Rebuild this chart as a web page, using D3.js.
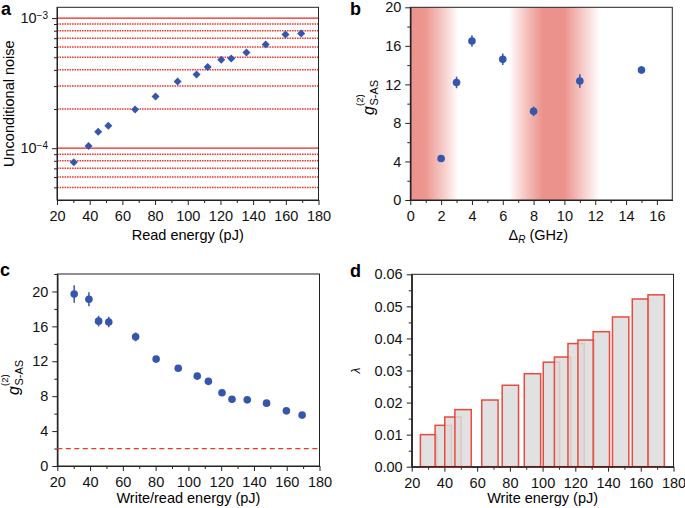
<!DOCTYPE html>
<html>
<head>
<meta charset="utf-8">
<script src="https://cdn.jsdelivr.net/npm/d3@7"></script>
<style>
  body { margin: 0; background: #fff; }
  svg { font-family: "Liberation Sans", Arial, sans-serif; }
  .tick text { font-size: 14.5px; fill: #111; }
  .domain, .tick line { stroke: #222; }
</style>
</head>
<body>
<script>
// pulse energies shared by panels a, c, d (pJ)
var energy = [30.3, 39.3, 45.2, 51.4, 67.8, 80.3, 93.8, 105.4, 112.2, 120.5, 126.6, 135.9, 147.7, 159.8, 169.4];

// panel a: unconditional noise vs read energy
var noise = [7.8e-5, 1.04e-4, 1.34e-4, 1.49e-4, 1.98e-4, 2.5e-4, 3.25e-4, 3.68e-4, 4.21e-4, 4.79e-4, 4.9e-4, 5.45e-4, 6.27e-4, 7.49e-4, 7.62e-4];
var refLevels = [1e-3, 9e-4, 8e-4, 7e-4, 6e-4, 5e-4, 4e-4, 3e-4, 2e-4, 1e-4, 9e-5, 8e-5, 7e-5, 6e-5, 5e-5];
var solidLevels = [1e-3, 1e-4];
var decadeTicks = [1e-4, 1e-3];
var decadeExp = ["\u22124", "\u22123"];

// panel b: g2 vs detuning
var detuning = [2, 3, 4, 6, 8, 11, 15];
var g2b = [4.3, 12.2, 16.5, 14.6, 9.2, 12.35, 13.5];
var g2bErr = [0.3, 0.6, 0.6, 0.6, 0.5, 0.7, 0.4];
// red shading: [detuning GHz, strength 0..1]
var shade = [[0, 1], [1.0, 0.95], [2.2, 0.45], [3.1, 0], [6.4, 0], [7.6, 0.6], [8.6, 1], [10.0, 1], [11.0, 0.55], [12.3, 0]];

// panel c: g2 vs write/read energy
var g2c = [19.7, 19.1, 16.6, 16.5, 14.8, 12.25, 11.2, 10.3, 9.7, 8.4, 7.65, 7.58, 7.2, 6.32, 5.83];
var g2cErr = [1.0, 0.8, 0.6, 0.6, 0.5, 0.3, 0.3, 0.3, 0.3, 0.3, 0.25, 0.25, 0.25, 0.25, 0.25];
var classicalBound = 2;

// panel d: lambda vs write energy
var lambda = [0.0100, 0.0129, 0.0155, 0.0178, 0.0208, 0.0254, 0.0290, 0.0326, 0.0342, 0.0384, 0.0395, 0.0421, 0.0467, 0.0523, 0.0536];
var binWidth = 10;

var energyTicks = d3.range(20, 181, 20),
    energyMinor = d3.range(30, 180, 20);

var blue = "#3556ad",
    red = "#e8392b";

var svg = d3.select("body").append("svg")
    .attr("width", 685)
    .attr("height", 508);

// plot boxes
var boxA = {l: 57, r: 318.5, t: 7.3, b: 200},
    boxB = {l: 410.3, r: 672.3, t: 7.3, b: 200},
    boxC = {l: 57.3, r: 319.5, t: 274, b: 466},
    boxD = {l: 411.7, r: 673.5, t: 274.3, b: 466.7};

function bottomAxis(box, x, major, minor) {
    svg.append("g")
        .attr("transform", "translate(0," + box.b + ")")
        .call(d3.axisBottom(x).tickValues(minor).tickSize(3).tickSizeOuter(0).tickFormat(""));
    svg.append("g")
        .attr("transform", "translate(0," + box.b + ")")
        .call(d3.axisBottom(x).tickValues(major).tickSize(5).tickSizeOuter(0).tickPadding(6));
}

function leftAxis(box, y, major, minor, fmt) {
    svg.append("g")
        .attr("transform", "translate(" + box.l + ",0)")
        .call(d3.axisLeft(y).tickValues(minor).tickSize(3).tickSizeOuter(0).tickFormat(""));
    return svg.append("g")
        .attr("transform", "translate(" + box.l + ",0)")
        .call(d3.axisLeft(y).tickValues(major).tickSize(5).tickSizeOuter(0).tickPadding(4).tickFormat(fmt || null));
}

function frame(box) {
    svg.append("rect")
        .attr("x", box.l).attr("y", box.t)
        .attr("width", box.r - box.l).attr("height", box.b - box.t)
        .attr("fill", "none").attr("stroke", "#222").attr("stroke-width", 1);
}

function xLabel(box, y, txt) {
    return svg.append("text")
        .attr("x", (box.l + box.r) / 2).attr("y", y)
        .attr("text-anchor", "middle")
        .style("font-size", "14.5px")
        .text(txt);
}

function panelLetter(x, y, s) {
    svg.append("text").attr("x", x).attr("y", y)
        .style("font-size", "18px").style("font-weight", "bold")
        .text(s);
}

function g2Label(x, y) {
    var g = svg.append("g").attr("transform", "translate(" + x + "," + y + ") rotate(-90)");
    g.append("text").attr("x", 0).attr("y", 0)
        .style("font-size", "16px").style("font-style", "italic").text("g");
    g.append("text").attr("x", 9.5).attr("y", 3.5)
        .style("font-size", "11px").text("S-AS");
    g.append("text").attr("x", 9).attr("y", -11)
        .style("font-size", "9.5px").text("(2)");
}

// ---------------- panel a ----------------
var xa = d3.scaleLinear().domain([20, 180]).range([boxA.l, boxA.r]);
var ya = d3.scaleLog().domain([4e-5, 1.21e-3]).range([boxA.b, boxA.t]);

svg.append("g").selectAll("line")
    .data(refLevels)
    .enter().append("line")
    .attr("x1", boxA.l).attr("x2", boxA.r)
    .attr("y1", function(d) { return ya(d); })
    .attr("y2", function(d) { return ya(d); })
    .attr("stroke", function(d) { return solidLevels.indexOf(d) >= 0 ? "#e8261e" : "#ee3a32"; })
    .attr("stroke-width", function(d) { return solidLevels.indexOf(d) >= 0 ? 1.2 : 1.5; })
    .attr("stroke-dasharray", function(d) { return solidLevels.indexOf(d) >= 0 ? null : "1.6,0.9"; });

var minorA = [];
[1e-5, 1e-4].forEach(function(dec) {
    d3.range(2, 10).forEach(function(k) {
        var v = dec * k;
        if (v > 4e-5 && v < 1.21e-3) minorA.push(v);
    });
});
bottomAxis(boxA, xa, energyTicks, energyMinor);
var yaxA = leftAxis(boxA, ya, decadeTicks, minorA, function() { return ""; });
yaxA.selectAll(".tick text").each(function(d, i) {
    var t = d3.select(this).text(null);
    t.append("tspan").text("10");
    t.append("tspan").attr("dy", "-0.45em").style("font-size", "10px").text(decadeExp[i]);
});
frame(boxA);

svg.append("g").selectAll("path")
    .data(energy)
    .enter().append("path")
    .attr("d", d3.symbol().type(d3.symbolSquare).size(32))
    .attr("transform", function(d, i) { return "translate(" + xa(d) + "," + ya(noise[i]) + ") rotate(45)"; })
    .attr("fill", blue);

xLabel(boxA, 239.5, "Read energy (pJ)");
svg.append("text")
    .attr("transform", "translate(14," + ((boxA.t + boxA.b) / 2) + ") rotate(-90)")
    .attr("text-anchor", "middle")
    .style("font-size", "14.5px")
    .text("Unconditional noise");
panelLetter(1, 15, "a");

// ---------------- panel b ----------------
var xb = d3.scaleLinear().domain([0, 17]).range([boxB.l, boxB.r]);
var yb = d3.scaleLinear().domain([0, 20]).range([boxB.b, boxB.t]);

var grad = svg.append("defs").append("linearGradient")
    .attr("id", "shadeB")
    .attr("gradientUnits", "userSpaceOnUse")
    .attr("x1", boxB.l).attr("x2", boxB.r)
    .attr("y1", 0).attr("y2", 0);
grad.selectAll("stop")
    .data(shade)
    .enter().append("stop")
    .attr("offset", function(d) { return (xb(d[0]) - boxB.l) / (boxB.r - boxB.l); })
    .attr("stop-color", "#ec928c")
    .attr("stop-opacity", function(d) { return d[1]; });
svg.append("rect")
    .attr("x", boxB.l).attr("y", boxB.t)
    .attr("width", boxB.r - boxB.l).attr("height", boxB.b - boxB.t)
    .attr("fill", "url(#shadeB)");

bottomAxis(boxB, xb, d3.range(0, 17, 2), d3.range(1, 17, 2));
leftAxis(boxB, yb, d3.range(0, 21, 4), d3.range(2, 20, 4));
frame(boxB);

var pb = svg.append("g");
pb.selectAll("line")
    .data(detuning)
    .enter().append("line")
    .attr("x1", function(d) { return xb(d); })
    .attr("x2", function(d) { return xb(d); })
    .attr("y1", function(d, i) { return yb(g2b[i] - g2bErr[i]); })
    .attr("y2", function(d, i) { return yb(g2b[i] + g2bErr[i]); })
    .attr("stroke", blue).attr("stroke-width", 1.5);
pb.selectAll("circle")
    .data(detuning)
    .enter().append("circle")
    .attr("cx", function(d) { return xb(d); })
    .attr("cy", function(d, i) { return yb(g2b[i]); })
    .attr("r", 3.8)
    .attr("fill", blue);

var lb = svg.append("text")
    .attr("x", (boxB.l + boxB.r) / 2 - 3).attr("y", 239.5)
    .attr("text-anchor", "middle")
    .style("font-size", "14.5px");
lb.append("tspan").text("\u0394");
lb.append("tspan").attr("dy", "3").style("font-size", "10px").style("font-style", "italic").text("R");
lb.append("tspan").attr("dy", "-3").text(" (GHz)");
g2Label(374, 115);
panelLetter(350, 15, "b");

// ---------------- panel c ----------------
var xc = d3.scaleLinear().domain([20, 180]).range([boxC.l, boxC.r]);
var yc = d3.scaleLinear().domain([0, 22]).range([boxC.b, boxC.t]);

bottomAxis(boxC, xc, energyTicks, energyMinor);
leftAxis(boxC, yc, d3.range(0, 21, 4), d3.range(2, 23, 4));
frame(boxC);

svg.append("line")
    .attr("x1", boxC.l).attr("x2", boxC.r)
    .attr("y1", yc(classicalBound)).attr("y2", yc(classicalBound))
    .attr("stroke", "#f0362a").attr("stroke-width", 1.3)
    .attr("stroke-dasharray", "5,3.5");

var pc = svg.append("g");
pc.selectAll("line")
    .data(energy)
    .enter().append("line")
    .attr("x1", function(d) { return xc(d); })
    .attr("x2", function(d) { return xc(d); })
    .attr("y1", function(d, i) { return yc(g2c[i] - g2cErr[i]); })
    .attr("y2", function(d, i) { return yc(g2c[i] + g2cErr[i]); })
    .attr("stroke", blue).attr("stroke-width", 1.5);
pc.selectAll("circle")
    .data(energy)
    .enter().append("circle")
    .attr("cx", function(d) { return xc(d); })
    .attr("cy", function(d, i) { return yc(g2c[i]); })
    .attr("r", 3.8)
    .attr("fill", blue);

xLabel(boxC, 503, "Write/read energy (pJ)");
g2Label(19, 395);
panelLetter(0, 276, "c");

// ---------------- panel d ----------------
var xd = d3.scaleLinear().domain([20, 180]).range([boxD.l, boxD.r]);
var yd = d3.scaleLinear().domain([0, 0.06]).range([boxD.b, boxD.t]);

bottomAxis(boxD, xd, energyTicks, energyMinor);
leftAxis(boxD, yd, d3.range(0, 0.0601, 0.01), d3.range(0.005, 0.06, 0.01), d3.format(".2f"));

svg.append("g").selectAll("rect")
    .data(energy)
    .enter().append("rect")
    .attr("x", function(d) { return xd(d - binWidth / 2); })
    .attr("width", function(d) { return xd(d + binWidth / 2) - xd(d - binWidth / 2); })
    .attr("y", function(d, i) { return yd(lambda[i]); })
    .attr("height", function(d, i) { return yd(0) - yd(lambda[i]); })
    .attr("fill", "#dcdcdc").attr("fill-opacity", 0.85)
    .attr("stroke", red).attr("stroke-opacity", 0.9).attr("stroke-width", 1.5);
frame(boxD);

xLabel(boxD, 503, "Write energy (pJ)");
svg.append("text")
    .attr("transform", "translate(360," + ((boxD.t + boxD.b) / 2) + ") rotate(-90)")
    .attr("text-anchor", "middle")
    .style("font-size", "12px").style("font-style", "italic")
    .text("\u03bb");
panelLetter(350, 277, "d");
</script>
</body>
</html>
